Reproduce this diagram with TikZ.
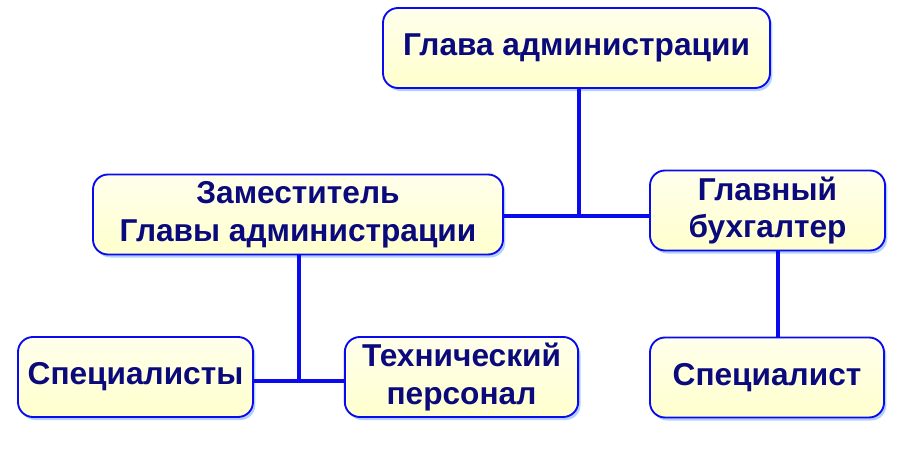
\documentclass[tikz,border=0pt]{standalone}
\usepackage{fontspec}
\setmainfont{Liberation Sans}
\usepackage{tikz}
\usetikzlibrary{positioning,shadows}

\definecolor{linkblue}{RGB}{10,10,240}
\definecolor{textnavy}{RGB}{10,10,125}
\definecolor{boxtop}{RGB}{255,255,236}
\definecolor{boxbottom}{RGB}{255,255,205}

\begin{document}
\begin{tikzpicture}
    [%%%%%%%%%%%%%%%%%%%%%%%%%%%%%%
    x=0.03cm, y=-0.03cm,
    box/.style={rectangle,rounded corners=0.45cm,draw=linkblue,line width=1.6pt,
        top color=boxtop,bottom color=boxbottom,
        drop shadow={shadow xshift=0.07cm,shadow yshift=-0.09cm,fill=blue!60!cyan,opacity=0.3},
        minimum height=2.4cm,inner xsep=2pt,align=center,text=textnavy,
        font=\fontsize{27}{32}\selectfont\bfseries},
    link/.style={draw=linkblue,line width=2.6pt},
    ]%%%%%%%%%%%%%%%%%%%%%%%%%%%%%%

    \useasboundingbox (0,0) rectangle (900,450);

    % head
    \node[box,minimum width=11.61cm] at (576.5,48)(glava){Глава администрации};

    % deputy and accountant
    \node[box,minimum width=12.3cm] at (298,214.5)(zam){Заместитель\\Главы администрации};
    \node[box,minimum width=7.05cm] at (767.5,210.5)(buh){Главный\\бухгалтер};

    % staff
    \node[box,minimum width=7.05cm] at (135.5,377)(spec){Специалисты};
    \node[box,minimum width=7.0cm] at (461.5,377)(tech){Технический\\персонал};
    \node[box,minimum width=7.02cm] at (767,377.5)(spec_buh){Специалист};

    % links
    \coordinate (j_top) at (579,216);
    \coordinate (j_zam) at (299,381);
    \coordinate (j_buh) at (778,300);
    \draw[link] (glava.south -| j_top) -- (j_top);
    \draw[link] (zam.east |- j_top) -- (buh.west |- j_top);
    \draw[link] (zam.south -| j_zam) -- (j_zam);
    \draw[link] (spec.east |- j_zam) -- (tech.west |- j_zam);
    \draw[link] (buh.south -| j_buh) -- (spec_buh.north -| j_buh);
\end{tikzpicture}
\end{document}
